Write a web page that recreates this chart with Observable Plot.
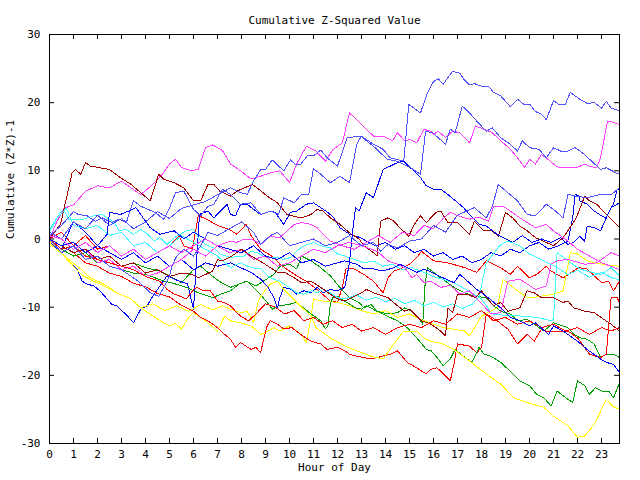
<!DOCTYPE html>
<html><head><meta charset="utf-8">
<script src="https://cdn.jsdelivr.net/npm/d3@7"></script>
<script src="https://cdn.jsdelivr.net/npm/@observablehq/plot@0.6"></script>
<style>
body{margin:0;background:#fff;}
#chart svg{display:block;}
#chart svg g[aria-label="line"] path{shape-rendering:crispEdges;}
</style></head><body><div id="chart"></div>
<script>
// ---- data: [hour, cumulative value] ----
const lb1 = [[0,0.5],[0.5,2],[1,4],[1.2,3.6],[1.57,3.4],[1.9,2.6],[2.2,3.1],[2.6,2.4],[2.9,2.9],[3.2,2.4],[3.5,5.6],[3.8,4.8],[4.1,4.35],[4.4,3.9],[4.76,2.9],[5.0,4.5],[5.25,6.8],[5.6,7.0],[6.0,4.35],[6.3,3.4],[6.6,4.8],[6.85,5.1],[7.2,7.3],[7.54,6.55],[7.96,5.1],[8.4,5.3],[8.8,3.6],[9.2,4.1],[9.55,3.6],[9.76,6.05],[10.2,5.3],[10.5,6.55],[10.8,6.55],[11.0,10.3],[11.3,9.5],[11.7,8.25],[12.1,9.2],[12.5,8.25],[12.8,13.9],[13.0,15.1],[13.5,13.9],[13.9,13.15],[14.2,11.9],[14.76,11.4],[14.97,19.75],[15.46,18.5],[15.74,21.4],[16.0,23.1],[16.2,23.5],[16.4,22.7],[16.8,24.6],[17.1,24.3],[17.25,23.5],[17.5,22.6],[17.7,22.8],[18.0,22.4],[18.3,22.4],[18.5,21.5],[18.8,21.0],[19.2,19.4],[19.5,20.5],[19.75,19.8],[20.0,19.8],[20.25,18.7],[20.5,18.3],[20.7,17.5],[21.0,20.3],[21.2,19.8],[21.5,19.8],[21.7,21.5],[22.1,20.5],[22.4,19.9],[22.7,20.0],[23.0,19.2],[23.2,20.2],[23.4,19.2],[23.75,18.8]];
const lb2 = [[0,1],[0.5,0],[1,2.5],[1.5,1.5],[2,3.5],[2.5,2],[3,3],[3.5,1.5],[4,2.5],[4.5,4],[5,3],[5.5,4.5],[6,5],[6.5,5.5],[7,6.5],[7.54,7.5],[7.96,6.8],[8.24,6.55],[8.5,8.5],[8.8,10.2],[9.0,10.2],[9.28,11.6],[9.76,10],[10.04,11.6],[10.25,10.95],[10.46,10.95],[10.74,12.2],[11.0,12.2],[11.3,13.05],[11.57,11.9],[12.0,10.7],[12.4,14.85],[12.96,15.1],[13.5,13.6],[14.07,11.7],[14.5,11.4],[15.04,10.45],[15.46,9.5],[15.67,15.8],[15.95,15.6],[16.2,14.85],[16.5,13.9],[16.7,16.1],[16.9,15.6],[17.2,19.5],[17.5,18.5],[17.8,17.3],[18.2,15.8],[18.45,16.3],[18.8,14.85],[19.2,13.9],[19.5,12.9],[19.7,14.4],[20.0,13.4],[20.4,13.15],[20.7,11.9],[21.0,13.4],[21.3,12.9],[21.6,12.9],[21.9,13.4],[22.3,12.4],[22.5,11.7],[22.96,10.2],[23.2,10.45],[23.6,9.7],[23.75,9.5]];
const lb3 = [[0,0],[0.5,-2],[1,-1],[1.5,-3],[2,-2.5],[2.5,-4],[3,-4.5],[3.7,-6.2],[4.2,-7.9],[4.55,-8.4],[4.76,-7.1],[5.0,-5.4],[5.1,-4.0],[5.3,-2.5],[5.6,-1.5],[6,-2.5],[6.3,-1],[6.6,1],[7,0.5],[7.5,1.5],[8,2.5],[8.5,1],[8.8,-0.8],[9.2,0.5],[9.5,1],[10,-1],[10.5,-0.5],[11,0],[11.5,-1],[12,-0.5],[12.5,0.5],[13,-1],[13.5,-0.5],[13.8,-1.8],[14.1,-0.8],[14.5,-1.3],[14.76,-0.8],[15,-0.3],[15.5,0],[16,2],[16.5,1],[17,3.5],[17.7,4.6],[18.2,3.1],[18.45,4.8],[18.7,8.0],[19.1,6.8],[19.5,5.6],[19.9,3.6],[20.25,3.4],[20.7,5.1],[21.0,4.35],[21.4,3.1],[21.6,6.55],[21.9,6.3],[22.4,6.05],[22.96,6.55],[23.4,6.5],[23.75,7.5]];
const m1 = [[0,0],[0.3,2.5],[0.6,4.5],[1,5],[1.5,7],[2,7.8],[2.5,7.5],[3,8.5],[3.4,7.5],[3.8,6.5],[4.3,8],[4.7,9.5],[5.0,11],[5.25,11.7],[5.5,10.5],[5.9,10],[6.2,10.2],[6.5,13.4],[6.8,13.8],[7.2,13],[7.54,11],[7.96,10],[8.4,8.8],[8.8,9.2],[9.2,9.7],[9.6,10],[10.0,8.3],[10.3,11],[10.7,13.6],[11.1,12.9],[11.5,11.4],[11.8,13.1],[12.2,14.1],[12.5,18.5],[12.8,17.5],[13.2,16.1],[13.5,15.1],[13.9,15.1],[14.3,14.4],[14.5,15.6],[14.8,14.4],[15.0,14.6],[15.3,14.1],[15.6,16.1],[15.9,15.8],[16.0,15.35],[16.2,15.8],[16.5,14.9],[16.8,15.8],[17.1,15.6],[17.5,14.1],[17.75,16.6],[18.1,16.1],[18.45,15.6],[18.8,14.4],[19.2,13.2],[19.5,11.9],[19.8,10.5],[20.0,11.7],[20.25,11],[20.5,12.4],[20.7,11.9],[21.0,11],[21.2,10.5],[21.6,10.5],[22.0,10.5],[22.3,11],[22.55,10.6],[22.8,10.5],[22.96,11.9],[23.25,17.3],[23.5,17.1],[23.75,16.8]];
const m2 = [[0,0],[0.5,-1],[1,-2],[1.5,-1.5],[2,-3.5],[2.5,-3],[3,-4.5],[3.5,-4],[4,-5.5],[4.5,-5],[5,-4],[5.5,-3],[6,-1.5],[6.5,-2.5],[7,-1],[7.5,-2],[8,-1.5],[8.5,-3],[9,-2.5],[9.5,-4],[10,-3.5],[10.5,-2.5],[11,-1.5],[11.5,-2],[12,-1],[12.5,-0.5],[13,-1],[13.65,-1.8],[14.1,-3.2],[14.5,-3.7],[14.8,-4.2],[15.1,-5.7],[15.3,-5.2],[15.6,-6.4],[15.9,-6.2],[16.3,-7.1],[16.7,-6.8],[17.1,-8.1],[17.5,-7.6],[17.96,-9.3],[18.4,-11.0],[18.8,-10.8],[19.1,-6.2],[19.6,-5.9],[20.25,-7.4],[20.7,-6.9],[20.9,-3.7],[21.15,-3.2],[21.6,-3.0],[22.3,-3.7],[22.8,-3.5],[23.4,-2.0],[23.75,-2.5]];
const m3 = [[0,0.5],[0.5,0],[1,-1.5],[1.5,-0.5],[2,-2],[2.5,-1],[3,-2.5],[3.5,-1.5],[4,-3],[4.5,-2],[5,-1],[5.5,-2],[6,-1],[6.5,0],[7,-1],[7.54,-0.3],[7.8,-0.5],[8.1,0],[8.4,0],[8.8,-0.8],[9.2,0.4],[9.6,0.2],[9.9,1.2],[10.2,2.15],[10.5,2.4],[10.9,2.15],[11.15,1.65],[11.4,0.7],[11.7,-0.3],[12.2,-1],[12.7,-1.5],[13.2,-0.5],[13.7,0.5],[14.2,-0.5],[14.7,1],[15.2,0.5],[15.6,2],[16,1.5],[16.4,3],[16.7,3.9],[17.1,3.3],[17.5,2.9],[17.9,3.2],[18.3,2.6],[18.5,4.7],[18.9,4.8],[19.2,4.1],[19.6,3.1],[20.25,1.65],[20.7,2.15],[21.0,1.2],[21.4,0.2],[21.6,-0.3],[22,-1.5],[22.5,-2.5],[23,-3.5],[23.4,-4],[23.75,-4.5]];
const dr1 = [[0,0],[0.46,2.2],[0.74,6.5],[0.94,9.7],[1.08,10.2],[1.3,9.5],[1.5,11.2],[1.7,10.7],[2.1,10.45],[2.5,10.2],[2.96,9.0],[3.4,8.0],[3.8,6.8],[4.2,5.6],[4.55,9.5],[4.76,8.75],[5.2,8.25],[5.6,7.5],[6.0,5.6],[6.3,5.6],[6.6,8.0],[6.85,8.0],[7.1,7.0],[7.54,6.3],[7.8,7.0],[8.45,8.0],[8.65,7.5],[9.07,6.3],[9.5,5.3],[9.9,3.6],[10.1,3.4],[10.5,3.1],[10.9,3.6],[11.15,4.35],[11.4,4.1],[11.7,3.1],[12.1,2.15],[12.5,0.9],[12.9,0],[13.1,-1.0],[13.5,-2.0],[13.65,-2.5],[13.8,2.6],[14.1,3.1],[14.35,2.6],[14.6,1.65],[14.97,0.4],[15.2,2.15],[15.46,3.4],[15.7,2.4],[16.1,3.9],[16.3,4.1],[16.6,2.4],[17.0,2.4],[17.5,0.7],[17.7,2.6],[18.1,1.2],[18.45,1.2],[18.7,0.4],[19.0,3.9],[19.3,3.1],[19.6,1.9],[19.9,1.2],[20.25,0.2],[20.7,-0.5],[21.0,-1.0],[21.4,0.2],[21.6,1.2],[21.95,3.1],[22.3,6.3],[22.5,5.6],[22.8,5.1],[23.2,3.6],[23.75,1.65]];
const dr2 = [[0,0],[0.5,-1],[1,-2],[1.5,-1.5],[2,-3],[2.5,-2.5],[3,-4],[3.5,-3.5],[4,-5],[4.5,-4.5],[5,-5.5],[5.5,-5],[5.95,-5.2],[6.2,-5.7],[6.5,-5.2],[6.8,-4.7],[7.0,-3.0],[7.2,-3.2],[7.6,-2.5],[8.0,-1.5],[8.4,-2.5],[8.9,-3.5],[9.5,-4.9],[9.8,-4.9],[10.2,-5.7],[10.5,-6.4],[10.9,-6.2],[11.3,-7.1],[11.7,-8.1],[12.0,-8.8],[12.3,-9.1],[12.7,-8.4],[13.0,-7.9],[13.2,-7.4],[13.65,-8.1],[14.1,-8.6],[14.5,-9.8],[14.8,-10.6],[15.0,-10.3],[15.3,-11.3],[15.5,-12.0],[15.9,-12.5],[16.3,-13.5],[16.5,-14.2],[16.6,-10.1],[16.8,-10.8],[17.0,-8.1],[17.4,-8.1],[17.75,-8.6],[18.0,-7.6],[18.5,-9.8],[18.8,-9.3],[19.1,-10.6],[19.6,-10.1],[19.9,-7.6],[20.2,-7.9],[20.5,-8.6],[21.0,-8.6],[21.4,-9.3],[21.6,-9.1],[21.85,-10.1],[22.3,-10.6],[22.7,-10.8],[23.1,-11.8],[23.4,-12.5],[23.75,-13.5]];
const c1 = [[0,1.4],[0.46,3.9],[0.6,4.35],[0.8,2.9],[1.4,2.9],[1.85,3.4],[2.2,3.6],[2.7,2.4],[2.9,1.2],[3.2,1.4],[3.5,0.7],[3.8,1.4],[4.1,0.7],[4.35,-0.3],[4.6,0.2],[4.9,-0.8],[5.2,0.2],[5.7,1.2],[6.0,1.4],[6.3,-0.3],[6.6,-1.0],[6.85,-1.3],[7.1,-2.2],[7.54,-2.7],[8.1,-2.5],[8.4,-1.8],[8.65,-2.0],[8.9,-2.5],[9.2,-2.7],[9.5,-2.7],[9.76,-3.0],[10.04,-2.7],[10.25,-2.0],[10.46,-1.3],[10.74,-0.8],[11.0,-0.5],[11.3,-1.0],[11.7,-1.3],[12.0,-2.2],[12.3,-2.5],[12.7,-3.0],[13.1,-3.5],[13.5,-3.2],[13.9,-4.0],[14.3,-3.7],[14.7,-4.5],[15.1,-4.2],[15.46,-4.7],[16.0,-5.5],[16.85,-6.4],[17.4,-7.5],[18.0,-8.8],[18.45,-11.0],[19.0,-11.2],[19.6,-11.3],[20.3,-11.5],[20.9,-12.0],[21.0,-11.8],[21.15,-2.0],[21.6,-3.2],[22.1,-4.4],[22.5,-4.8],[23.0,-5.2],[23.4,-4.2],[23.75,-5.4]];
const c2 = [[0,1],[0.3,3],[0.7,4.5],[1,2],[1.5,1.5],[2,2],[2.5,0.5],[3,1],[3.5,-1],[4,-0.5],[4.5,-2],[5,-1],[5.5,0.5],[6,-0.5],[6.5,-1.5],[7,-2.5],[7.54,-4.2],[7.96,-3.5],[8.4,-4.2],[8.8,-4.4],[9.2,-5.7],[9.6,-6.2],[10.0,-7.1],[10.3,-7.9],[10.6,-8.1],[10.9,-7.6],[11.15,-7.9],[11.4,-7.4],[11.7,-7.9],[12.0,-8.6],[12.3,-8.8],[12.8,-8.2],[13.2,-9.0],[13.6,-8.5],[14.0,-9.2],[14.4,-8.7],[14.8,-9.5],[15.2,-9.0],[15.6,-9.8],[16.0,-9.3],[16.4,-10.0],[16.8,-9.5],[17.2,-10.2],[17.6,-9.6],[17.9,-8.5],[18.2,-3.5],[18.8,-0.8],[19.1,-0.3],[19.6,-1.0],[20.0,-2.2],[20.6,-3.2],[21.15,-4.2],[21.6,-5.2],[22.0,-4.6],[22.5,-5.6],[23.0,-4.9],[23.5,-5.8],[23.75,-6.0]];
const y1 = [[0,0],[0.05,-0.8],[0.46,-2.0],[0.875,-3.2],[1.3,-4.4],[1.7,-5.7],[2.2,-6.5],[2.5,-7.1],[2.8,-7.9],[3.4,-8.8],[3.8,-10.1],[4.4,-11.5],[4.76,-12.3],[5.0,-12.75],[5.25,-12.4],[5.5,-13.2],[5.8,-11.5],[6.0,-10.8],[6.3,-11.5],[6.6,-12.3],[7.0,-13.5],[7.3,-11.3],[7.54,-12.0],[7.96,-12.3],[8.4,-12.75],[8.8,-14.0],[9.1,-13.5],[9.35,-13.0],[9.6,-13.5],[10.0,-12.75],[10.5,-14.0],[10.7,-15.2],[10.9,-11.5],[11.0,-8.8],[11.4,-9.1],[12.0,-9.3],[12.5,-9.8],[13.0,-10.5],[13.5,-11.0],[14.0,-10.5],[14.5,-11.5],[15.0,-11.0],[15.46,-11.8],[16.4,-13.0],[17.3,-13.5],[17.5,-14.2],[17.8,-12.5],[18.0,-11.3],[18.65,-10.1],[18.9,-5.9],[19.5,-7.6],[19.9,-8.6],[20.3,-8.5],[21.0,-8.1],[21.4,-7.6],[21.7,-2.0],[22.0,-2.2],[22.4,-3.2],[23.0,-3.7],[23.75,-4.0]];
const y2 = [[0,0],[0.6,-2.5],[1.0,-4.0],[1.4,-5.4],[1.85,-6.2],[2.4,-7.1],[2.8,-7.9],[3.4,-8.8],[3.8,-10.1],[4.3,-9.5],[4.8,-10.5],[5.3,-9.8],[5.8,-10.6],[6.3,-9.6],[6.8,-10.4],[7.2,-9.8],[7.54,-10.3],[7.96,-10.8],[8.24,-10.6],[8.5,-12.3],[8.7,-9.1],[8.9,-7.9],[9.2,-6.6],[9.5,-6.2],[9.76,-7.4],[10.3,-9.3],[10.9,-11.3],[11.1,-13.0],[11.3,-13.5],[11.7,-14.5],[12.3,-15.7],[12.8,-16.4],[13.4,-17.2],[13.9,-17.6],[14.35,-15.4],[14.76,-13.5],[15.3,-13.5],[15.6,-14.5],[15.9,-15.0],[16.4,-15.4],[16.85,-16.2],[17.5,-17.9],[18.2,-19.8],[18.8,-21.3],[19.35,-23.3],[19.9,-24.0],[20.6,-24.7],[21.0,-26.0],[21.6,-27.4],[22.0,-29.1],[22.3,-28.9],[22.7,-27.2],[23.2,-23.5],[23.45,-24.5],[23.75,-25.0]];
const b1 = [[0,0],[0.05,-0.5],[0.46,-2.0],[0.875,-3.5],[1.15,-4.4],[1.36,-6.2],[1.57,-6.6],[1.85,-6.9],[2.1,-7.6],[2.4,-8.8],[2.6,-9.6],[2.8,-9.8],[3.1,-10.8],[3.3,-11.5],[3.5,-12.3],[3.8,-10.3],[4.07,-9.8],[4.3,-8.4],[4.5,-7.4],[4.9,-5.4],[5.2,-5.9],[5.6,-6.4],[5.75,-6.6],[6.0,-10.3],[6.25,3.6],[6.6,4.1],[6.85,3.1],[7.4,5.1],[7.54,3.6],[7.75,3.4],[7.96,5.1],[8.24,5.1],[8.5,4.35],[8.8,3.6],[9.2,4.1],[9.4,3.9],[9.76,2.15],[10.04,3.9],[10.3,4.1],[10.7,5.1],[11.0,5.3],[11.3,4.6],[11.6,3.9],[11.85,3.1],[12.1,1.65],[12.5,0.7],[12.96,0.2],[13.2,-0.3],[13.6,-1],[14,-0.5],[14.4,-1.5],[14.8,-1],[15.2,-2],[15.6,-1.5],[16,-2.5],[16.4,-2],[16.8,-3],[17.2,-2.5],[17.6,-3.5],[18,-3],[18.4,-2],[18.8,-2.5],[19.2,-1.5],[19.6,-2],[20,-1],[20.4,-0.5],[20.8,-1.5],[21.2,-1],[21.6,-0.3],[21.8,3.1],[21.9,6.55],[22.05,6.3],[22.1,5.6],[22.4,5.1],[22.7,4.1],[23.0,3.4],[23.2,3.1],[23.4,4.6],[23.5,5.1],[23.65,7.3],[23.75,7.3]];
const b2 = [[0,0],[0.5,-1.5],[0.8,1],[1,2.5],[1.5,1],[2,-1],[2.5,-2],[3,-3],[3.5,-2],[4,-3.5],[4.5,-2.5],[5,-4],[5.5,-3],[6,-4.5],[6.5,-3.5],[7,-4],[7.54,-3.5],[7.96,-4.2],[8.4,-4.9],[8.8,-5.9],[9.07,-6.9],[9.35,-8.6],[9.5,-10.1],[9.6,-8.6],[9.76,-7.1],[10.1,-7.4],[10.3,-8.1],[10.6,-7.6],[10.9,-7.9],[11.15,-7.1],[11.4,-7.9],[11.7,-7.4],[12.0,-7.6],[12.3,-7.1],[12.5,-3.5],[12.6,0.2],[12.75,4.6],[12.9,4.1],[13.2,6.8],[13.5,6.05],[13.9,10.2],[14.5,11.2],[14.76,11.4],[15.04,10.45],[15.46,9.0],[15.7,7.8],[16.0,7.3],[16.3,7.3],[16.5,6.8],[16.85,5.8],[17.25,4.6],[17.5,3.6],[17.9,2.15],[18.2,1.9],[18.65,0.7],[18.9,0.2],[19.3,-0.5],[19.7,0.5],[20.1,-0.5],[20.5,0],[20.9,-0.5],[21.3,0.2],[21.6,-0.8],[21.85,-0.5],[22.1,0.4],[22.3,-0.3],[22.4,1.9],[22.7,1.65],[22.96,1.2],[23.2,3.1],[23.4,4.6],[23.75,5.3]];
const b3 = [[0,0],[0.5,-1],[1,-0.5],[1.5,-2],[2,-1],[2.4,0.7],[2.5,3.9],[2.96,3.6],[3.3,4.1],[3.6,4.6],[3.9,3.1],[4.2,1.65],[4.6,0.7],[5.2,1.2],[5.6,0],[6,1],[6.5,0],[7,-1],[7.5,-1.5],[8,-2],[8.5,-1],[9,-2.5],[9.5,-3],[10,-2],[10.5,-3.5],[11,-3],[11.5,-4],[12,-3.5],[12.3,-3.2],[12.8,-3.7],[13.1,-4.4],[13.5,-4.4],[13.9,-4.7],[14.35,-4.2],[14.6,-3.7],[14.9,-4.2],[15.3,-4.9],[15.6,-4.4],[16.0,-5.0],[16.4,-5.7],[16.85,-6.4],[17.1,-5.2],[17.8,-7.4],[18.2,-8.4],[18.8,-10.1],[19.2,-11.5],[19.6,-12.0],[20.0,-12.75],[20.25,-12.3],[20.8,-14.0],[21.0,-12.75],[21.4,-13.5],[22.0,-15.0],[22.4,-16.2],[22.96,-17.6],[23.2,-18.1],[23.5,-18.4],[23.75,-19.6]];
const g1 = [[0,0],[0.5,-1],[1,-2],[1.5,-1.5],[2,-3],[2.5,-3.5],[3,-4],[3.5,-3.5],[4,-4.2],[4.6,-4.7],[5.25,-5.9],[5.5,-6.4],[6.0,-4.5],[6.3,-4.0],[6.8,-5.5],[7.2,-6.5],[7.54,-7.1],[8.2,-6.2],[8.6,-6.9],[8.9,-6.2],[9.35,-5.2],[9.6,-4.0],[10.0,-3.7],[10.3,-4.4],[10.5,-2.5],[10.9,-3.2],[11.3,-4.2],[11.7,-5.4],[12.1,-7.1],[12.5,-8.6],[12.9,-9.3],[13.1,-10.1],[13.4,-9.6],[13.65,-10.6],[14.1,-11.0],[14.5,-10.8],[14.8,-10.1],[15.1,-10.6],[15.46,-12.0],[15.55,-12.5],[15.65,-6.6],[15.75,-4.2],[16.3,-5.7],[16.85,-7.1],[17.3,-7.9],[17.7,-8.4],[18.2,-8.6],[18.5,-9.8],[18.8,-10.6],[19.2,-11.0],[19.5,-12.0],[19.9,-11.8],[20.3,-12.75],[20.6,-13.5],[21.0,-12.3],[21.6,-13.0],[21.85,-14.0],[22.1,-14.5],[22.4,-14.7],[22.7,-15.4],[22.96,-17.4],[23.2,-16.9],[23.5,-16.9],[23.75,-17.4]];
const g2 = [[0,0],[0.5,-1.5],[1,-2.5],[1.5,-2],[2,-3.5],[2.5,-3],[3,-4.5],[3.5,-5],[4,-5.2],[4.8,-6.2],[5.25,-6.6],[5.7,-7.1],[6.2,-7.9],[6.8,-8.6],[7.2,-8.0],[7.54,-7.6],[7.9,-6.6],[8.24,-6.2],[8.65,-7.6],[9.07,-9.3],[9.28,-10.3],[9.55,-9.8],[9.97,-9.6],[10.3,-9.3],[10.9,-11.0],[11.3,-12.0],[11.5,-13.2],[11.6,-12.75],[11.7,-9.6],[11.8,-8.6],[12.0,-8.4],[12.3,-9.1],[12.75,-10.1],[13.0,-10.3],[13.2,-9.8],[13.65,-10.6],[14.07,-11.3],[14.5,-12.0],[14.9,-13.0],[15.3,-14.5],[15.7,-16.2],[15.9,-16.4],[16.15,-17.4],[16.4,-18.6],[16.7,-17.6],[16.9,-16.2],[17.25,-17.2],[17.6,-18.1],[17.9,-15.9],[18.1,-16.9],[18.4,-17.2],[18.8,-18.1],[19.2,-19.4],[19.6,-20.8],[20.0,-21.5],[20.3,-22.8],[20.6,-23.3],[20.9,-24.5],[21.15,-22.3],[21.4,-23.0],[21.8,-24.0],[22.0,-20.8],[22.3,-21.5],[22.5,-22.8],[22.75,-21.8],[23.0,-22.3],[23.3,-22.3],[23.5,-23.3],[23.75,-21.1]];
const r1 = [[0,0],[0.5,1],[1,-1],[1.5,0.5],[2,-1.5],[2.5,-1],[3,-2.5],[3.5,-1.5],[4,-3],[4.5,-2],[5,-1],[5.4,0.4],[5.6,-1],[5.95,-1.5],[6.2,3.4],[6.5,3.0],[7.0,2.0],[7.5,1.4],[7.8,0.7],[8.0,1.4],[8.2,2.15],[8.4,0.5],[8.8,-1.5],[9.35,-2.7],[9.6,-3.7],[10.0,-4.7],[10.3,-5.4],[10.7,-6.2],[11.15,-7.4],[11.7,-9.1],[12.0,-9.3],[12.2,-7.1],[12.35,-4.4],[12.7,-4.4],[13.1,-5.2],[13.5,-6.2],[13.9,-7.9],[14.1,-5.7],[14.35,-4.7],[14.6,-4.4],[15.0,-3.7],[15.3,-2.7],[15.5,-1.8],[16.0,-3.2],[16.6,-3.5],[17.3,-4.2],[17.8,-4.9],[18.2,-3.2],[18.8,-4.2],[19.2,-5.2],[19.5,-4.0],[20.0,-5.7],[20.3,-5.2],[20.7,-4.0],[20.9,-4.7],[21.4,-5.7],[22.05,-4.2],[22.4,-4.4],[23.0,-6.4],[23.3,-6.2],[23.5,-7.6],[23.75,-6.2]];
const r2 = [[0,0],[0.5,-1],[1,-2],[1.5,-3.5],[2,-4],[2.5,-5],[3,-5.5],[3.5,-6.5],[4,-7],[4.5,-8],[5,-8.5],[5.4,-9.5],[5.7,-10.1],[6.0,-10.6],[6.3,-11.5],[6.6,-12.0],[7.0,-13.0],[7.3,-14.0],[7.54,-14.7],[7.75,-15.9],[7.96,-15.2],[8.4,-16.2],[8.6,-15.9],[8.8,-16.7],[8.9,-15.0],[9.07,-12.75],[9.2,-12.0],[9.5,-12.5],[9.76,-13.2],[10.1,-13.0],[10.46,-14.0],[10.9,-15.0],[11.3,-15.4],[11.57,-16.2],[12.0,-15.9],[12.3,-16.4],[12.5,-16.9],[12.8,-17.2],[13.1,-17.4],[13.4,-17.6],[13.65,-17.4],[14.2,-16.9],[14.5,-16.4],[14.9,-18.1],[15.3,-18.9],[15.7,-19.8],[15.9,-19.1],[16.15,-18.9],[16.7,-20.8],[16.85,-18.4],[17.0,-15.4],[17.5,-15.7],[17.8,-16.7],[18.0,-15.9],[18.2,-11.0],[18.65,-12.0],[19.1,-13.2],[19.5,-15.4],[19.9,-14.0],[20.2,-15.0],[20.5,-13.2],[20.7,-13.5],[21.6,-13.5],[22.0,-14.5],[22.5,-16.9],[22.96,-17.4],[23.2,-16.9],[23.4,-8.6],[23.65,-8.6],[23.75,-9.3]];
const r3 = [[0,0],[0.5,-1.5],[1,-1],[1.5,-2.5],[2,-3],[2.5,-3.5],[3,-4],[3.5,-4.5],[4,-5.5],[4.6,-6.2],[4.9,-7.4],[5.2,-8.1],[5.45,-8.4],[5.7,-8.8],[6.0,-7.4],[6.15,-7.1],[6.4,-7.6],[6.7,-7.6],[7.0,-9.1],[7.25,-9.3],[7.54,-9.8],[7.8,-10.8],[7.96,-11.3],[8.3,-12],[8.6,-11],[9,-9.5],[9.4,-10],[9.8,-11],[10.2,-10.5],[10.6,-12],[11,-11.5],[11.4,-12.5],[11.8,-12],[12.2,-13],[12.6,-12.5],[13,-13.5],[13.5,-13],[14,-14],[14.5,-13],[15,-12.5],[15.5,-13],[16,-12],[16.5,-12.5],[17,-11],[17.5,-11.5],[18,-10.5],[18.5,-12],[19,-11.5],[19.5,-12.5],[20,-12],[20.5,-13],[21,-12.5],[21.5,-13.5],[22,-13],[22.5,-14],[23,-13],[23.4,-13.5],[23.75,-13]];

const seriesNames  = ["r1","g1","b1","m1","c1","y1","dr1","lb1","r2","g2","b2","m2","c2","y2","dr2","lb2","r3","b3","m3","lb3"];
const seriesData   = [r1,g1,b1,m1,c1,y1,dr1,lb1,r2,g2,b2,m2,c2,y2,dr2,lb2,r3,b3,m3,lb3];
const seriesColors = ["#ff0000","#00a000","#0000ff","#ff40ff","#40ffff","#ffff00","#a00000","#5050ff",
                      "#ff0000","#00a000","#0000ff","#ff40ff","#40ffff","#ffff00","#a00000","#5050ff",
                      "#ff0000","#0000ff","#ff40ff","#5050ff"];

const xTicks = d3.range(0, 24);
const yTicks = [-30, -20, -10, 0, 10, 20, 30];
const xDomain = [0, 23.75];
const yDomain = [-30, 30];
const titleText = "Cumulative Z-Squared Value";
const xLabelText = "Hour of Day";
const yLabelText = "Cumulative (Z*Z)-1";

// ---- layout ----
const W = 640, H = 480, ML = 49, MR = 21, MT = 34, MB = 37;
const FONT = "'DejaVu Sans Mono', 'Liberation Mono', monospace";
const tickPx = 5;
const tickX = tickPx * (xDomain[1] - xDomain[0]) / (W - ML - MR);
const tickY = tickPx * (yDomain[1] - yDomain[0]) / (H - MT - MB);

const lineMarks = seriesData.map((d, i) =>
  Plot.line(d, {x: p => p[0], y: p => p[1], stroke: seriesColors[i], strokeWidth: 1}));

const chart = Plot.plot({
  width: W, height: H,
  marginLeft: ML, marginRight: MR, marginTop: MT, marginBottom: MB,
  style: {fontFamily: FONT, fontSize: "11px", background: "white", color: "black"},
  x: {domain: xDomain},
  y: {domain: yDomain},
  marks: [
    ...lineMarks,
    Plot.frame({stroke: "black"}),
    Plot.ruleX(xTicks, {x: d => d, y1: yDomain[0], y2: yDomain[0] + tickY, stroke: "black"}),
    Plot.ruleX(xTicks, {x: d => d, y1: yDomain[1], y2: yDomain[1] - tickY, stroke: "black"}),
    Plot.ruleY(yTicks, {y: d => d, x1: xDomain[0], x2: xDomain[0] + tickX, stroke: "black"}),
    Plot.ruleY(yTicks, {y: d => d, x1: xDomain[1], x2: xDomain[1] - tickX, stroke: "black"}),
    Plot.axisX({ticks: xTicks, tickSize: 0, tickPadding: 7, label: null, tickFormat: d => String(d)}),
    Plot.axisY({ticks: yTicks, tickSize: 0, tickPadding: 9, label: null, tickFormat: d => String(d)}),
    Plot.text([titleText], {text: d => d, frameAnchor: "top", dy: -18, fontSize: 11}),
    Plot.text([xLabelText], {text: d => d, frameAnchor: "bottom", dy: 27, fontSize: 11}),
    Plot.text([yLabelText], {text: d => d, frameAnchor: "left", dx: -39, rotate: -90, fontSize: 11})
  ]
});
document.getElementById("chart").appendChild(chart);
</script></body></html>
